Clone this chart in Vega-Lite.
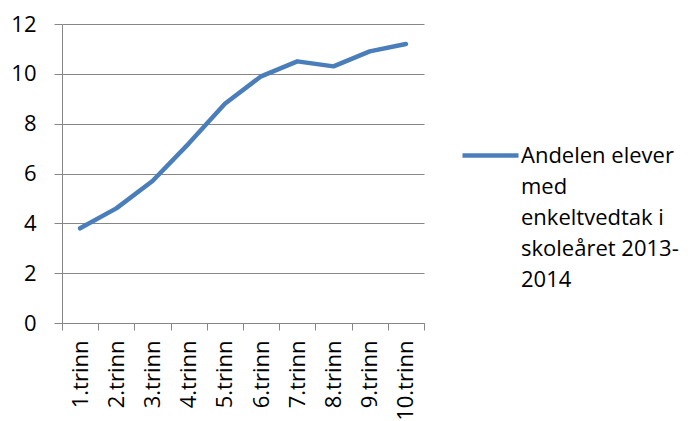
{
  "$schema": "https://vega.github.io/schema/vega-lite/v6.json",
  "width": 362,
  "height": 299,
  "autosize": "none",
  "padding": {"left": 62, "top": 24, "right": 267, "bottom": 98},
  "background": "white",
  "config": {"view": {"stroke": null}, "font": "Open Sans"},
  "data": {
    "values": [
      {"trinn": "1.trinn", "andel": 3.8, "serie": "Andelen elever med enkeltvedtak i skoleåret 2013-2014"},
      {"trinn": "2.trinn", "andel": 4.6, "serie": "Andelen elever med enkeltvedtak i skoleåret 2013-2014"},
      {"trinn": "3.trinn", "andel": 5.7, "serie": "Andelen elever med enkeltvedtak i skoleåret 2013-2014"},
      {"trinn": "4.trinn", "andel": 7.2, "serie": "Andelen elever med enkeltvedtak i skoleåret 2013-2014"},
      {"trinn": "5.trinn", "andel": 8.8, "serie": "Andelen elever med enkeltvedtak i skoleåret 2013-2014"},
      {"trinn": "6.trinn", "andel": 9.9, "serie": "Andelen elever med enkeltvedtak i skoleåret 2013-2014"},
      {"trinn": "7.trinn", "andel": 10.5, "serie": "Andelen elever med enkeltvedtak i skoleåret 2013-2014"},
      {"trinn": "8.trinn", "andel": 10.3, "serie": "Andelen elever med enkeltvedtak i skoleåret 2013-2014"},
      {"trinn": "9.trinn", "andel": 10.9, "serie": "Andelen elever med enkeltvedtak i skoleåret 2013-2014"},
      {"trinn": "10.trinn", "andel": 11.2, "serie": "Andelen elever med enkeltvedtak i skoleåret 2013-2014"}
    ]
  },
  "mark": {"type": "line", "strokeWidth": 4.5, "strokeCap": "round", "strokeJoin": "round"},
  "encoding": {
    "x": {
      "field": "trinn",
      "type": "ordinal",
      "sort": null,
      "scale": {"type": "band", "paddingInner": 0, "paddingOuter": 0},
      "axis": {
        "title": null,
        "tickBand": "extent",
        "labelAngle": -90,
        "labelAlign": "right",
        "labelBaseline": "middle",
        "labelFontSize": 22,
        "labelColor": "black",
        "labelPadding": 10,
        "tickSize": 7,
        "tickColor": "#868686",
        "domainColor": "#868686",
        "grid": false
      }
    },
    "y": {
      "field": "andel",
      "type": "quantitative",
      "scale": {"domain": [0, 12], "nice": false},
      "axis": {
        "title": null,
        "values": [0, 2, 4, 6, 8, 10, 12],
        "grid": true,
        "gridColor": "#868686",
        "domain": true,
        "domainColor": "#868686",
        "tickColor": "#868686",
        "tickSize": 8,
        "labelPadding": 18,
        "labelFontSize": 22,
        "labelColor": "black"
      }
    },
    "color": {
      "field": "serie",
      "type": "nominal",
      "scale": {"range": ["#4a7ebb"]},
      "legend": {
        "title": null,
        "orient": "none",
        "legendX": 398,
        "legendY": 101,
        "padding": 0,
        "symbolType": "stroke",
        "symbolSize": 3136,
        "symbolStrokeWidth": 4.5,
        "labelExpr": "['Andelen elever', 'med', 'enkeltvedtak i', 'skoleåret 2013-', '2014']",
        "labelFontSize": 22,
        "labelBaseline": "alphabetic",
        "labelOffset": 0,
        "labelLimit": 300,
        "labelColor": "black",
        "encode": {
          "labels": {
            "update": {
              "lineHeight": {"value": 31},
              "dy": {"value": 7}
            }
          }
        }
      }
    }
  }
}
